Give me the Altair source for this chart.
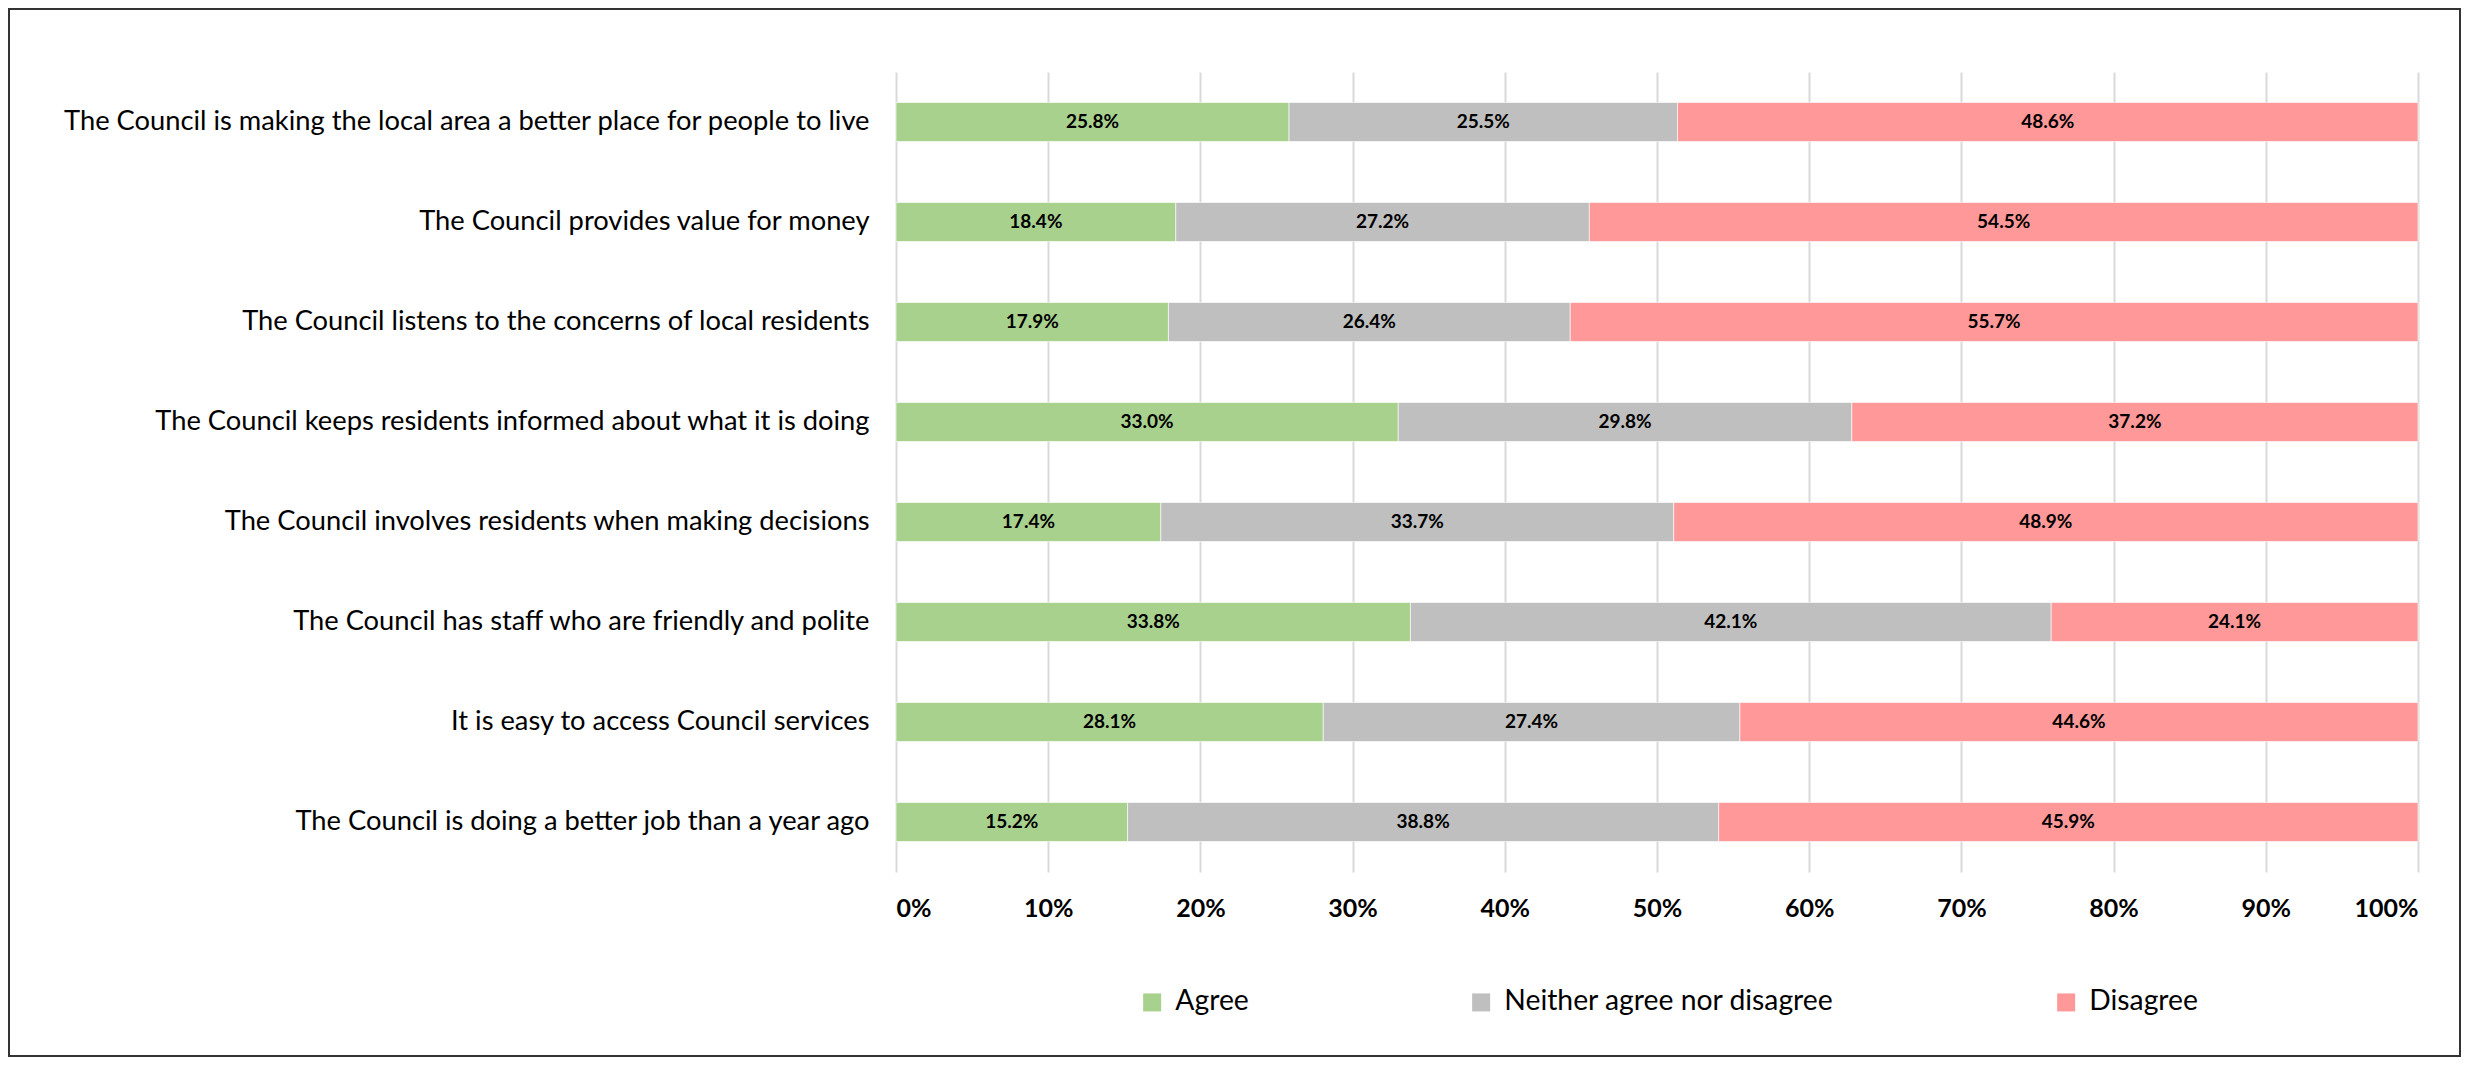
import altair as alt
import pandas as pd

questions = [
    "The Council is making the local area a better place for people to live",
    "The Council provides value for money",
    "The Council listens to the concerns of local residents",
    "The Council keeps residents informed about what it is doing",
    "The Council involves residents when making decisions",
    "The Council has staff who are friendly and polite",
    "It is easy to access Council services",
    "The Council is doing a better job than a year ago",
]
categories = ["Agree", "Neither agree nor disagree", "Disagree"]
agree = [25.8, 18.4, 17.9, 33.0, 17.4, 33.8, 28.1, 15.2]
neither = [25.5, 27.2, 26.4, 29.8, 33.7, 42.1, 27.4, 38.8]
disagree = [48.6, 54.5, 55.7, 37.2, 48.9, 24.1, 44.6, 45.9]
colors = ["#A9D18E", "#BFBFBF", "#FF9999"]
tick_values = [0, 0.1, 0.2, 0.3, 0.4, 0.5, 0.6, 0.7, 0.8, 0.9, 1.0]

rows = []
for i, q in enumerate(questions):
    for j, (cat, vals) in enumerate(zip(categories, [agree, neither, disagree])):
        rows.append({"question": q, "category": cat, "order": j, "value": vals[i]})
df = pd.DataFrame(rows)

FONT = "Lato"
W, H = 1522, 800

base = alt.Chart(df).transform_joinaggregate(
    total="sum(value)", groupby=["question"]
).transform_window(
    cum="sum(value)", groupby=["question"], sort=[alt.SortField("order")],
    frame=[None, 0]
).transform_calculate(
    x_end="datum.cum / datum.total",
    x_start="(datum.cum - datum.value) / datum.total",
    x_mid="(datum.cum - datum.value / 2) / datum.total",
    label="format(datum.value, '.1f') + '%'",
)

y_enc = alt.Y(
    "question:N", sort=questions, title=None,
    scale=alt.Scale(paddingInner=0.61, paddingOuter=0.305),
    axis=alt.Axis(labelFontSize=27.3, labelFont=FONT, labelColor="black",
                  labelPadding=27, ticks=False, domain=False, labelLimit=1200,
                  grid=False),
)

bars = base.mark_bar(stroke="white", strokeWidth=1, strokeOpacity=0.6).encode(
    x=alt.X("x_start:Q", scale=alt.Scale(domain=[0, 1], nice=False), title=None,
            axis=alt.Axis(values=tick_values, format=".0%", labelFont=FONT,
                          labelFontSize=25, labelFontWeight="bold",
                          labelColor="black", labelPadding=24, ticks=False,
                          domain=False, grid=True, gridColor="#D9D9D9",
                          gridWidth=2)),
    x2="x_end:Q",
    y=y_enc,
    color=alt.Color(
        "category:N",
        scale=alt.Scale(domain=categories, range=colors),
        title=None,
        legend=alt.Legend(
            orient="none", direction="horizontal", legendX=242, legendY=916,
            symbolType="square", symbolSize=324, symbolStrokeWidth=0,
            labelFont=FONT, labelFontSize=28.3, labelColor="black",
            labelOffset=9, columnPadding=218, labelLimit=600,
        ),
    ),
)

labels = base.mark_text(font=FONT, fontSize=19, fontWeight="bold",
                        color="black").encode(
    x=alt.X("x_mid:Q"),
    y=alt.Y("question:N", sort=questions),
    text="label:N",
)

frame = alt.Chart(pd.DataFrame({"a": [0]})).mark_rect(
    fill=None, fillOpacity=0, stroke="#333333", strokeWidth=2
).encode(
    x=alt.value(-887), x2=alt.value(W + 42),
    y=alt.value(-63), y2=alt.value(H + 184),
)

chart = alt.layer(bars, labels, frame).properties(
    width=W, height=H,
    autosize=alt.AutoSizeParams(type="none"),
    padding={"left": 888, "top": 64, "right": 43, "bottom": 185},
).configure_view(stroke=None)

chart.save("out.html", embed_options={"renderer": "svg", "actions": False})
